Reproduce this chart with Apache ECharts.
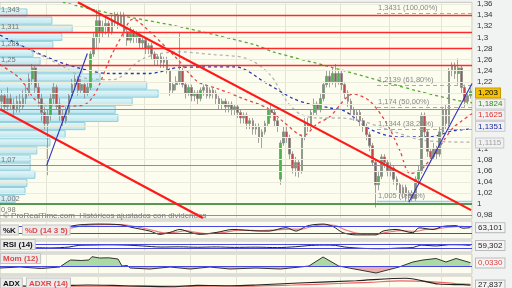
<!DOCTYPE html>
<html><head><meta charset="utf-8">
<script src="https://cdn.jsdelivr.net/npm/echarts@6/dist/echarts.min.js"></script>
<style>html,body{margin:0;padding:0;background:#fff}#c{width:512px;height:288px}</style>
</head><body><div id="c"></div>
<script>
// weekly candles [open, close, low, high]
const ohlc = [
[1.185,1.195,1.17,1.205],[1.195,1.175,1.165,1.20],[1.175,1.19,1.168,1.21],[1.19,1.18,1.17,1.20],
[1.18,1.17,1.16,1.19],[1.17,1.185,1.165,1.195],[1.185,1.175,1.165,1.20],[1.175,1.19,1.17,1.205],
[1.19,1.20,1.18,1.215],[1.20,1.225,1.195,1.235],[1.225,1.245,1.215,1.252],[1.245,1.21,1.20,1.25],
[1.21,1.19,1.175,1.22],[1.19,1.165,1.15,1.20],[1.165,1.145,1.135,1.175],[1.145,1.16,1.052,1.17],
[1.16,1.19,1.15,1.20],[1.19,1.21,1.18,1.218],[1.21,1.18,1.17,1.215],[1.18,1.16,1.15,1.19],
[1.16,1.15,1.14,1.17],[1.15,1.165,1.145,1.175],[1.165,1.195,1.16,1.20],[1.195,1.215,1.19,1.225],
[1.215,1.225,1.205,1.232],[1.225,1.205,1.195,1.23],[1.205,1.215,1.20,1.225],[1.215,1.20,1.19,1.22],
[1.20,1.21,1.195,1.22],[1.21,1.27,1.205,1.275],[1.27,1.30,1.265,1.31],[1.30,1.33,1.28,1.35],
[1.33,1.31,1.29,1.34],[1.31,1.32,1.30,1.33],[1.32,1.325,1.305,1.335],[1.325,1.31,1.30,1.33],
[1.31,1.33,1.305,1.34],[1.33,1.34,1.32,1.346],[1.34,1.325,1.315,1.345],[1.325,1.34,1.32,1.346],
[1.34,1.31,1.30,1.345],[1.31,1.295,1.285,1.315],[1.295,1.31,1.29,1.32],[1.31,1.30,1.29,1.315],
[1.30,1.305,1.29,1.312],[1.305,1.29,1.28,1.31],[1.29,1.295,1.28,1.30],[1.295,1.28,1.27,1.30],
[1.28,1.285,1.27,1.29],[1.285,1.27,1.26,1.29],[1.27,1.26,1.25,1.275],[1.26,1.265,1.25,1.27],
[1.265,1.255,1.245,1.27],[1.255,1.26,1.245,1.265],[1.26,1.24,1.235,1.265],[1.24,1.205,1.195,1.245],
[1.205,1.215,1.20,1.22],[1.215,1.22,1.205,1.23],[1.22,1.24,1.215,1.31],[1.24,1.215,1.21,1.245],
[1.215,1.20,1.19,1.22],[1.20,1.21,1.195,1.215],[1.21,1.195,1.185,1.215],[1.195,1.20,1.185,1.205],
[1.20,1.19,1.18,1.205],[1.19,1.205,1.185,1.21],[1.205,1.21,1.195,1.215],[1.21,1.195,1.19,1.215],
[1.195,1.205,1.19,1.21],[1.205,1.20,1.19,1.21],[1.20,1.19,1.18,1.205],[1.19,1.18,1.17,1.195],
[1.18,1.185,1.17,1.19],[1.185,1.175,1.165,1.19],[1.175,1.18,1.165,1.185],[1.18,1.17,1.16,1.185],
[1.17,1.175,1.16,1.18],[1.175,1.165,1.155,1.18],[1.165,1.155,1.145,1.17],[1.155,1.16,1.145,1.165],
[1.16,1.145,1.135,1.165],[1.145,1.15,1.135,1.155],[1.15,1.135,1.125,1.155],[1.135,1.14,1.125,1.145],
[1.14,1.12,1.11,1.145],[1.12,1.13,1.10,1.135],[1.13,1.145,1.125,1.15],[1.145,1.17,1.14,1.175],
[1.17,1.165,1.155,1.18],[1.165,1.15,1.14,1.17],[1.15,1.14,1.13,1.155],[1.045,1.11,1.035,1.115],
[1.11,1.13,1.105,1.14],[1.13,1.12,1.11,1.14],[1.12,1.09,1.08,1.125],[1.09,1.065,1.055,1.095],
[1.065,1.075,1.05,1.085],[1.075,1.06,1.048,1.08],[1.06,1.12,1.055,1.125],[1.12,1.145,1.115,1.155],
[1.145,1.14,1.13,1.155],[1.14,1.165,1.135,1.17],[1.165,1.18,1.16,1.19],[1.18,1.17,1.16,1.185],
[1.17,1.19,1.165,1.20],[1.19,1.215,1.185,1.22],[1.215,1.23,1.21,1.24],[1.23,1.22,1.21,1.24],
[1.22,1.235,1.215,1.245],[1.235,1.22,1.21,1.252],[1.22,1.235,1.215,1.24],[1.235,1.215,1.205,1.24],
[1.215,1.20,1.19,1.22],[1.20,1.185,1.175,1.205],[1.185,1.17,1.16,1.19],[1.17,1.16,1.15,1.175],
[1.16,1.165,1.15,1.17],[1.165,1.15,1.14,1.17],[1.15,1.14,1.13,1.155],[1.14,1.125,1.115,1.145],
[1.125,1.105,1.095,1.13],[1.105,1.075,1.07,1.11],[1.075,1.035,0.994,1.08],[1.035,1.05,1.025,1.06],
[1.05,1.085,1.045,1.09],[1.085,1.075,1.065,1.09],[1.075,1.06,1.05,1.08],[1.06,1.065,1.05,1.075],
[1.065,1.045,1.035,1.07],[1.045,1.035,1.025,1.05],[1.035,1.02,1.01,1.04],[1.02,1.03,1.01,1.035],
[1.03,1.015,1.005,1.035],[1.015,1.02,1.005,1.025],[1.02,1.01,1.005,1.025],[1.01,1.045,1.005,1.05],
[1.045,1.06,1.035,1.07],[1.06,1.16,1.055,1.165],[1.16,1.13,1.12,1.165],[1.13,1.095,1.085,1.135],
[1.095,1.085,1.075,1.10],[1.085,1.10,1.08,1.11],[1.10,1.09,1.08,1.105],[1.09,1.13,1.085,1.14],
[1.13,1.17,1.125,1.175],[1.17,1.145,1.135,1.18],[1.145,1.24,1.14,1.245],[1.24,1.25,1.23,1.255],
[1.25,1.235,1.225,1.255],[1.235,1.245,1.215,1.262],[1.245,1.21,1.20,1.25],[1.21,1.185,1.175,1.215],
[1.185,1.195,1.178,1.20],[1.195,1.203,1.19,1.21]
];
const cats = ohlc.map((d, i) => i);
const vGrid = [15, 32, 47, 62, 77, 93, 111, 127, 144];

// moving averages: [candle index, price]
const maGreen = [[20,1.363],[36.4,1.342],[58.2,1.319],[83,1.286],[88.6,1.274],[107.2,1.247],[126.7,1.217],[136.2,1.203],[148.3,1.187],[153.5,1.1824]];
const maBlue = [[-0.5,1.304],[9.3,1.278],[21.4,1.251],[35.4,1.235],[48.4,1.235],[58.2,1.246],[76.2,1.247],[86.6,1.217],[95.1,1.19],[100.6,1.18],[107.2,1.173],[112.1,1.167],[120.2,1.135],[129,1.121],[139.8,1.121],[147.3,1.132],[153.5,1.1351]];
const maGray = [[6,1.286],[19,1.251],[27.9,1.226],[36.4,1.224],[46.2,1.262],[57.2,1.274],[69,1.269],[80.1,1.262],[87.6,1.233],[93.1,1.185],[97.4,1.162],[102.9,1.155],[110.4,1.155],[117.9,1.149],[124.5,1.137],[138.8,1.114],[153.5,1.1115]];
const maRed = [[-0.5,1.251],[6,1.226],[11.6,1.185],[19,1.176],[26.6,1.178],[30.5,1.199],[35.4,1.262],[38.7,1.297],[42.9,1.333],[48.4,1.31],[57.2,1.262],[63.8,1.221],[70.3,1.208],[78.8,1.19],[86.6,1.173],[91.8,1.149],[98.4,1.123],[102.9,1.144],[107.2,1.158],[114.7,1.198],[120.2,1.185],[125.8,1.144],[130,1.096],[133.3,1.055],[136.5,1.06],[142,1.096],[147.3,1.137],[153.5,1.1625]];
const lastClose = 1.203;
const maLast = {green: 1.1824, red: 1.1625, blue: 1.1351, gray: 1.1115};

// support / resistance
const redLevels = [1.343, 1.311, 1.281, 1.25];
const redLabels = ['1,343', '1,311', '1,281', '1,25'];
const greenLevels = [1.165, 1.07, 0.98];
const greenLabels = ['', '1,07', '0,98'];
const darkGreenLevel = 1.002, darkGreenLabel = '1,002';

// trend lines [[index, price],[index, price]]
const redTrends = [[[24.9,1.363],[153.2,0.9893]], [[-0.5,1.1708],[65.7,0.9751]]];
const blueTrends = [[[14.7,1.0694],[28,1.271]], [[132.9,1.0036],[153.5,1.217]]];

// Fibonacci retracement
const fibLevels = [1.3431, 1.2139, 1.174, 1.1344, 1.005];
const fibLabels = ['1,3431 (100,00%)', '1,2139 (61,80%)', '1,174 (50,00%)', '1,1344 (38,20%)', '1,005 (0,00%)'];
const fibFrom = 122.5, fibTo = 153.5;

// volume by price
const profBin = 0.0146;
const profPrice = [1.3447,1.3301,1.3155,1.3009,1.2863,1.2717,1.2571,1.2425,1.2279,1.2133,1.1988,1.1842,1.1696,1.155,1.1404,1.1258,1.1112,1.0966,1.082,1.0674,1.0528,1.0382,1.0236,1.009];
const profVol = [5.7,11,15.3,13.1,11.2,7,8.5,17.4,21.2,31.1,33.5,28,24.4,25,18,13.8,10.6,7.8,6.4,6.4,7.4,5.7,5.3,3.2];

// price axis tick labels
const yTicks = [0.98,1,1.02,1.04,1.06,1.08,1.1,1.22,1.24,1.26,1.28,1.3,1.32,1.34,1.36];
const yGrid = [0.98,1,1.02,1.04,1.06,1.08,1.1,1.12,1.14,1.16,1.18,1.2,1.22,1.24,1.26,1.28,1.3,1.32,1.34,1.36];

// indicators [index, value]
const stochK = [[19,53],[22.3,70],[25.6,79],[32.1,83],[38.7,79],[42.9,63],[48.4,44],[51.7,26],[55,37],[58.2,53],[61.5,37],[64.8,26],[70.3,37],[75.5,53],[83,45],[87.3,44],[92.8,63],[96.1,44],[99.3,70],[101.6,79],[104.9,83],[108.1,70],[111.4,35],[115.7,23],[122.2,23],[124.5,44],[128.7,53],[134.2,35],[136.2,62],[140.8,53],[144,70],[148.3,74],[150.6,60],[153,63.1]];
const stochD = [[19,48],[23,62],[27,75],[33,80],[39,80],[44,68],[49,50],[53,34],[57,38],[60,46],[63,38],[67,30],[72,35],[77,48],[84,47],[89,50],[94,55],[98,55],[101,68],[105,78],[109,74],[112,52],[117,30],[123,28],[126,38],[130,47],[135,42],[138,52],[142,56],[146,66],[150,70],[153,66]];
const stochLast = 63.101;
const rsi = [[10,40],[16,37],[22,45],[25,60],[30,63],[35,65],[41,62],[46,55],[52,45],[58,47],[64,43],[70,46],[76,42],[83,44],[90,40],[96,48],[100,58],[105,63],[109,60],[112,45],[118,33],[124,30],[130,36],[134,40],[137,62],[142,55],[146,66],[150,65],[153,59.3]];
const rsiLast = 59.302;
const mom = [[-0.5,-0.02],[6,-0.01],[13,-0.025],[19,-0.01],[21.4,0.04],[22.5,0.06],[26,0.055],[28.5,0.06],[29.5,0.093],[32,0.08],[35,0.082],[38,0.07],[39.3,0],[41,0.005],[42,-0.02],[48.4,-0.03],[55,-0.01],[61.5,-0.03],[68,-0.01],[74.5,-0.03],[83,-0.02],[91,-0.03],[97.4,-0.01],[100.3,0],[104.9,0.09],[110,0],[113.4,-0.02],[122.2,-0.07],[129.7,-0.01],[134.2,0.04],[137.5,0.06],[141.8,0.075],[145,0.04],[148.3,0.075],[153,0.033]];
const momLast = 0.033;
const adx = [[-0.5,28],[10,26.3],[20,27],[28,28],[40,27],[56,25.7],[64,27.6],[75,27],[83,28],[97,30.7],[115.7,33.7],[132,37],[142.7,29.3],[150.6,28.4],[153,27.8]];
const adxr = [[-0.5,27],[20,26.5],[40,26.5],[60,26.5],[80,26.5],[95,28],[110,30],[120,31.5],[130,33.5],[140,32.5],[148,30],[153,29]];
const adxLast = 27.837;

const N = ohlc.length;
const vSet = new Set(vGrid);
const FONT = 'Liberation Sans';
const fmt = v => String(+v.toFixed(4)).replace('.', ',');

const grids = [
  {top:0, height:219}, {top:221, height:18}, {top:241, height:11}, {top:254, height:20}, {top:276, height:12}
].map(g => Object.assign(g, {left:0, right:40, show:true, backgroundColor:'#fcfcef', borderColor:'#c6c6c0', borderWidth:1}));

const xAxis = [];
for (let g = 0; g < 5; g++) {
  xAxis.push({type:'category', gridIndex:g, data:cats, boundaryGap:true,
    axisLine:{show:false}, axisTick:{show:false}, axisLabel:{show:false},
    splitLine:{show:true, interval:(i) => vSet.has(i), lineStyle:{color:'#e3e3d6', width:1}}});
  xAxis.push({type:'value', gridIndex:g, min:-0.5, max:N-0.5, show:false});
}
xAxis.push({type:'value', gridIndex:0, min:0, max:100, show:false});

const hideY = {axisLine:{show:false}, axisTick:{show:false}, axisLabel:{show:false}, splitLine:{show:false}};
const yAxis = [
  {type:'value', gridIndex:0, position:'right', min:0.9733, max:1.363,
   axisLine:{show:false},
   axisTick:{show:true, length:3, customValues:yTicks, lineStyle:{color:'#444'}},
   axisLabel:{customValues:yTicks, formatter:fmt, fontSize:8, color:'#333', margin:5, fontFamily:FONT},
   splitLine:{show:false}},
  Object.assign({type:'value', gridIndex:1, min:0, max:100}, hideY),
  Object.assign({type:'value', gridIndex:2, min:0, max:100}, hideY),
  Object.assign({type:'value', gridIndex:3, min:-0.08, max:0.12}, hideY),
  Object.assign({type:'value', gridIndex:4, min:24, max:40}, hideY)
];

function valBox(v, text, color, bg, border) {
  return {yAxis:v, label:{show:true, position:'end', distance:4, formatter:text, color:color, opacity:1,
    backgroundColor:bg, borderColor:border, borderWidth:1, padding:[1,2,0,2], fontSize:8, fontFamily:FONT},
    lineStyle:{color:'rgba(0,0,0,0)', width:0, opacity:1}};
}
const ML = {silent:true, symbol:['none','none'], animation:false};

const series = [];
// volume profile
series.push({type:'custom', xAxisIndex:10, yAxisIndex:0, z:1, silent:true,
  data: profPrice.map((p, i) => [profVol[i], p]),
  renderItem(params, api) {
    const v = api.value(0), p = api.value(1);
    const a = api.coord([0, p + profBin/2]), b = api.coord([v, p - profBin/2]);
    return {type:'rect', shape:{x:a[0]-1, y:a[1]+0.5, width:b[0]-a[0]+1, height:b[1]-a[1]-1},
      style:{fill:new echarts.graphic.LinearGradient(0,0,0,1,[{offset:0,color:'#e6f8fb'},{offset:1,color:'#b8e4ec'}]),
        stroke:'#93cfdc', lineWidth:1}};
  }});
// gridlines in price panel
series.push({type:'line', xAxisIndex:1, yAxisIndex:0, data:[], z:1,
  markLine:Object.assign({data: yGrid.map(v => ({yAxis:v})), lineStyle:{color:'#ebebdc', width:1, type:'solid'}, label:{show:false}}, ML)});
// moving averages
const maDef = [[maGreen,'#55aa33',maLast.green,'#2f8f1f'],[maBlue,'#2b34b0',maLast.blue,'#1c2a9c'],[maGray,'#b4b4b4',maLast.gray,'#a0a0a0'],[maRed,'#e84545',maLast.red,'#e03030']];
maDef.forEach(([d, c, last, tc]) => {
  series.push({type:'line', xAxisIndex:1, yAxisIndex:0, data:d, showSymbol:false, smooth:0.3, z:3, silent:true,
    lineStyle:{color:c, width:1.3, type:[3,3]},
    markLine:Object.assign({data:[valBox(last, fmt(last), tc, '#f1f1f1', '#c8c8c8')], z:8}, ML)});
});
// candles
series.push({type:'candlestick', xAxisIndex:0, yAxisIndex:0, data:ohlc, barWidth:2.2, z:4,
  itemStyle:{color:'#4fb04f', color0:'#c04848', borderColor:'#8a8a8a', borderColor0:'#8a8a8a', borderWidth:0.8},
  markLine:Object.assign({data:[valBox(lastClose, fmt(lastClose), '#000', '#f6c200', '#c99a00')], z:9}, ML)});
// horizontal levels
const lvl = [];
redLevels.forEach((v, i) => lvl.push({yAxis:v, lineStyle:{color:'#ff2a2a', width:1.3, type:'solid'}, label:{formatter:redLabels[i]}}));
greenLevels.forEach((v, i) => lvl.push({yAxis:v, lineStyle:{color:'#4fbf4f', width:1.2, type:'solid'}, label:{formatter:greenLabels[i]}}));
lvl.push({yAxis:darkGreenLevel, lineStyle:{color:'#227a22', width:1.5, type:'solid'}, label:{formatter:darkGreenLabel}});
series.push({type:'line', xAxisIndex:1, yAxisIndex:0, data:[], z:5,
  markLine:Object.assign({data:lvl, label:{show:true, position:'insideStartTop', distance:1, color:'#777', fontSize:7.5, fontFamily:FONT}}, ML)});
// fibonacci
const fib = fibLevels.map((v, i) => [
  {coord:[fibFrom, v], lineStyle:{color:i === 4 ? '#8fd3ef' : '#5cc4f0', width:i === 4 ? 1.3 : 1, type:i === 4 ? 'solid' : [4,3]},
   label:{formatter:fibLabels[i]}},
  {coord:[fibTo, v]}]);
series.push({type:'line', xAxisIndex:1, yAxisIndex:0, data:[], z:5,
  markLine:Object.assign({data:fib, label:{show:true, position:'insideStartTop', distance:1, color:'#888', fontSize:7.5, fontFamily:FONT}}, ML)});
// trend lines
redTrends.forEach(t => series.push({type:'line', xAxisIndex:1, yAxisIndex:0, data:t, showSymbol:false, z:6, silent:true, lineStyle:{color:'#ff1a1a', width:2.2}}));
blueTrends.forEach(t => series.push({type:'line', xAxisIndex:1, yAxisIndex:0, data:t, showSymbol:false, z:6, silent:true, lineStyle:{color:'#3030c0', width:1.1}}));

const box = (c) => ({color:c, backgroundColor:'#ebebeb', borderColor:'#c4c4c4', borderWidth:1, padding:[1,2,0,2], fontSize:8, fontFamily:FONT});
const blueLvl = v => ({yAxis:v, lineStyle:{color:'#4646e0', width:1.2, type:'solid'}, label:{show:false}});

// stochastic
series.push({type:'line', xAxisIndex:3, yAxisIndex:1, data:stochD, showSymbol:false, smooth:0.3, lineStyle:{color:'#e77', width:1.2}, z:3,
  markLine:Object.assign({data:[blueLvl(70), blueLvl(30)]}, ML)});
series.push({type:'line', xAxisIndex:3, yAxisIndex:1, data:stochK, showSymbol:false, smooth:0.3, lineStyle:{color:'#222', width:1}, z:4,
  markLine:Object.assign({data:[valBox(stochLast, fmt(stochLast), '#222', '#f4f4f4', '#bbb')]}, ML)});
// RSI
series.push({type:'line', xAxisIndex:5, yAxisIndex:2, data:rsi, showSymbol:false, smooth:0.3, lineStyle:{color:'#222', width:1}, z:4,
  markLine:Object.assign({data:[blueLvl(70), blueLvl(30), valBox(rsiLast, fmt(rsiLast), '#222', '#f4f4f4', '#bbb')]}, ML)});
// Momentum: green above zero, red below (split taken from the data extent)
const momVals = mom.map(d => d[1]);
const mMax = Math.max(0, ...momVals), mMin = Math.min(0, ...momVals);
const zf = mMax / (mMax - mMin);
series.push({type:'line', xAxisIndex:7, yAxisIndex:3, data:mom, showSymbol:false, lineStyle:{width:0, color:'rgba(0,0,0,0)'}, z:2,
  areaStyle:{color:new echarts.graphic.LinearGradient(0,0,0,1,[{offset:0,color:'#a3d69c'},{offset:zf,color:'#a3d69c'},{offset:zf,color:'#eba6a6'},{offset:1,color:'#eba6a6'}]), opacity:0.9}});
series.push({type:'line', xAxisIndex:7, yAxisIndex:3, data:mom, showSymbol:false, lineStyle:{color:'#333', width:1}, z:4,
  markLine:Object.assign({data:[blueLvl(0), valBox(momLast, '0,0330', '#e04040', '#f4f4f4', '#bbb')]}, ML)});
// ADX
series.push({type:'line', xAxisIndex:9, yAxisIndex:4, data:adxr, showSymbol:false, smooth:0.3, lineStyle:{color:'#e66', width:1.2}, z:3});
series.push({type:'line', xAxisIndex:9, yAxisIndex:4, data:adx, showSymbol:false, smooth:0.3, lineStyle:{color:'#222', width:1.2}, z:4,
  markLine:Object.assign({data:[valBox(adxLast, fmt(adxLast), '#222', '#f4f4f4', '#bbb')]}, ML)});

const title = [
  {left:3, top:212, text:'© ProRealTime.com  Históricos ajustados con dividendos', textStyle:{fontSize:8, color:'#7a7a7a', fontWeight:'normal', fontFamily:FONT, backgroundColor:'#fcfcef'}, padding:0},
  {left:1, top:221, padding:0, text:'{a|%K} {b|%D (14 3 5)}', textStyle:{rich:{a:box('#111'), b:box('#e04848')}}},
  {left:1, top:240, padding:0, text:'{a|RSI (14)}', textStyle:{rich:{a:box('#111')}}},
  {left:1, top:254, padding:0, text:'{b|Mom (12)}', textStyle:{rich:{b:box('#e04848')}}},
  {left:1, top:274, padding:0, text:'{a|ADX} {b|ADXR (14)}', textStyle:{rich:{a:box('#111'), b:box('#e04848')}}}
];

const chart = echarts.init(document.getElementById('c'), null, {renderer:'canvas'});
chart.setOption({
  animation:false,
  backgroundColor:'#f1f3f3',
  textStyle:{fontFamily:FONT},
  title:title,
  grid:grids,
  xAxis:xAxis,
  yAxis:yAxis,
  series:series
});
</script>
</body></html>
